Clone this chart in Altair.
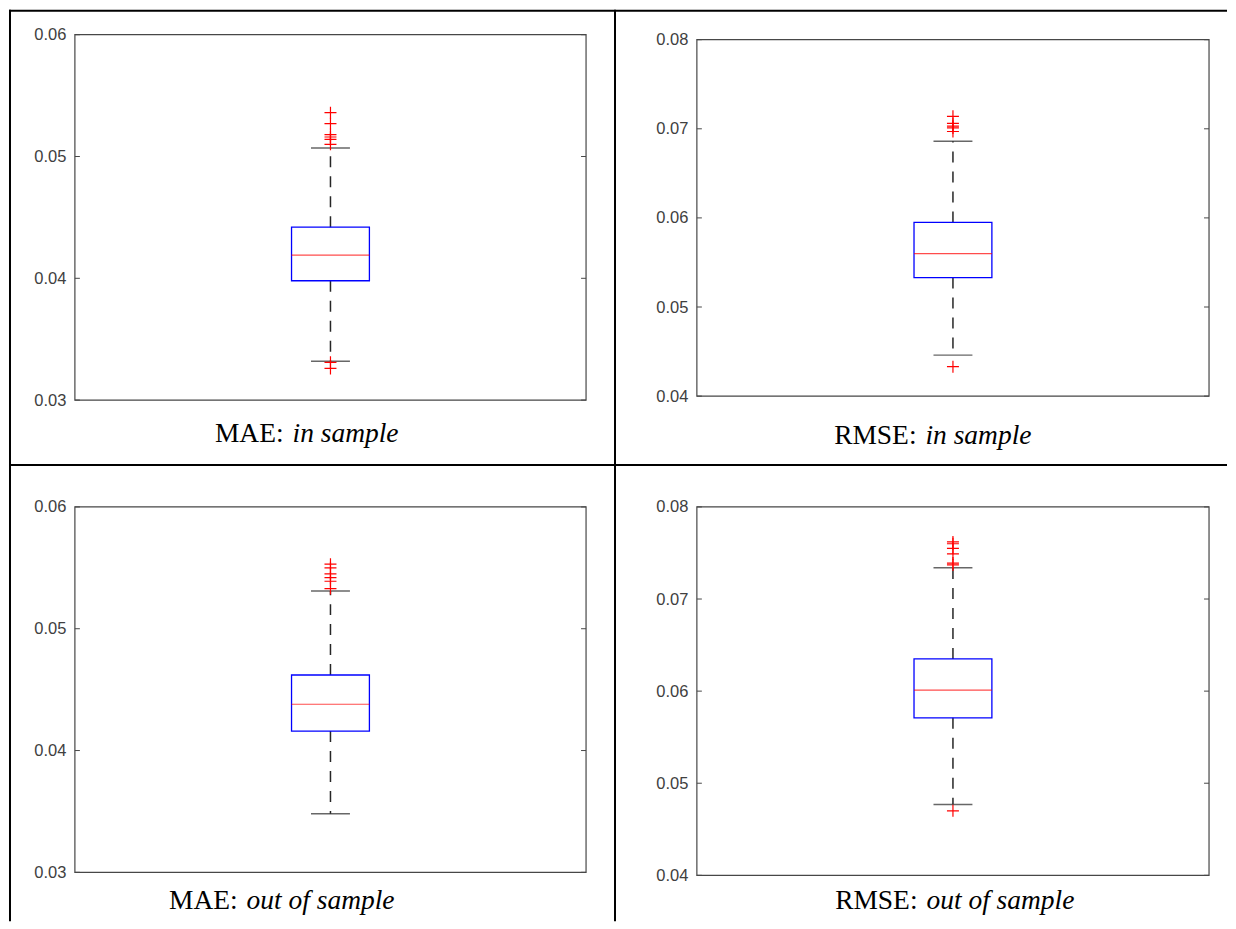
import altair as alt
import pandas as pd

# ---------------- data ----------------
panel_names = ["MAE in sample", "RMSE in sample", "MAE out of sample", "RMSE out of sample"]
caption_metric = ["MAE:", "RMSE:", "MAE:", "RMSE:"]
caption_sample = ["in sample", "in sample", "out of sample", "out of sample"]

box_q1 = [0.0398, 0.0533, 0.0416, 0.0571]
box_median = [0.0419, 0.0560, 0.0438, 0.0601]
box_q3 = [0.0442, 0.0595, 0.0462, 0.0635]
whisker_low = [0.0332, 0.0446, 0.0348, 0.0477]
whisker_high = [0.0507, 0.0686, 0.0531, 0.0734]

outliers_mae_in = [0.0536, 0.0527, 0.0518, 0.0516, 0.0514, 0.0510, 0.0331, 0.0326]
outliers_rmse_in = [0.0714, 0.0706, 0.0703, 0.0701, 0.0697, 0.0433]
outliers_mae_out = [0.0553, 0.0550, 0.0545, 0.0542, 0.0539, 0.0533]
outliers_rmse_out = [0.0762, 0.0760, 0.0755, 0.0749, 0.0739, 0.0737, 0.0470]
outliers = [outliers_mae_in, outliers_rmse_in, outliers_mae_out, outliers_rmse_out]

ticks_mae = [0.03, 0.04, 0.05, 0.06]
ticks_rmse = [0.04, 0.05, 0.06, 0.07, 0.08]
axis_ticks = [ticks_mae, ticks_rmse, ticks_mae, ticks_rmse]

# ---------------- styling / layout ----------------
FRAME = "#474747"
LABEL = "#404040"
BLUE = "#0000ff"
RED = "#ff0000"
WHISK = "#262626"
SERIF = "Liberation Serif, Times New Roman, serif"

# width, height, top pad px, bottom pad px
layout = [
    (512, 366, 0, 0),
    (513, 366, 5, 4),
    (512, 366, 0, 0),
    (513, 369, 0, 0),
]
# caption split x, baseline y (panel-local)
captions = [(209, 408), (220, 410), (163, 403), (221, 403)]
# border rules per panel: (x, x2, y, y2) panel-local pixels
borders = [
    [(-66, 541, -24, -24), (-65, -65, -25, 431), (-66, 541, 431, 431), (541, 541, -25, 431)],
    [(-82, 531, -24, -24), (-82, 531, 431, 431)],
    [(-65, -65, -42, 415), (541, 541, -42, 415)],
    [],
]

one = pd.DataFrame({"k": [0]})


def make_panel(i):
    w, h, pt, pb = layout[i]
    ticks = axis_ticks[i]
    lo, hi = ticks[0], ticks[-1]
    k = (h - pt - pb) / (hi - lo)
    dom = [lo - pb / k, hi + pt / k]
    ysc = alt.Scale(domain=dom, zero=False, nice=False)
    yax = alt.Axis(values=ticks, format=".2f", ticks=False, domain=False, grid=False,
                   labelPadding=9, labelFont="Liberation Sans", labelFontSize=16.5,
                   labelColor=LABEL, title=None)
    name = panel_names[i]
    xenc = alt.X("panel:N", scale=alt.Scale(type="point", domain=[name], padding=0.5), axis=None)

    stats = pd.DataFrame({
        "panel": [name], "q1": [box_q1[i]], "med": [box_median[i]], "q3": [box_q3[i]],
        "wlo": [whisker_low[i]], "whi": [whisker_high[i]],
    })
    out = pd.DataFrame({"panel": [name] * len(outliers[i]), "v": outliers[i]})
    tdf = pd.DataFrame({"t": ticks})
    fdf = pd.DataFrame({"top": [hi], "bot": [lo]})

    def Y(f):
        return alt.Y(f, scale=ysc, axis=yax)

    frame = alt.Chart(fdf).mark_rect(fill="transparent", stroke=FRAME, strokeWidth=1.2).encode(
        y=Y("top:Q"), y2="bot:Q", x=alt.value(0), x2=alt.value(w))
    tl = alt.Chart(tdf).mark_rule(color=FRAME, strokeWidth=1).encode(
        y=Y("t:Q"), x=alt.value(0), x2=alt.value(5))
    tr = alt.Chart(tdf).mark_rule(color=FRAME, strokeWidth=1).encode(
        y=Y("t:Q"), x=alt.value(w - 5), x2=alt.value(w))
    wh_up = alt.Chart(stats).mark_rule(color=WHISK, strokeWidth=1.5, strokeDash=[11, 9]).encode(
        x=xenc, y=Y("q3:Q"), y2="whi:Q")
    wh_lo = alt.Chart(stats).mark_rule(color=WHISK, strokeWidth=1.5, strokeDash=[11, 9]).encode(
        x=xenc, y=Y("q1:Q"), y2="wlo:Q")
    cap_hi = alt.Chart(stats).mark_tick(size=39, thickness=1.5, color=WHISK).encode(
        x=xenc, y=Y("whi:Q"))
    cap_lo = alt.Chart(stats).mark_tick(size=39, thickness=1.5, color=WHISK).encode(
        x=xenc, y=Y("wlo:Q"))
    box = alt.Chart(stats).mark_bar(size=78, fill="transparent", stroke=BLUE, strokeWidth=1.3).encode(
        x=xenc, y=Y("q1:Q"), y2="q3:Q")
    med = alt.Chart(stats).mark_tick(size=78, thickness=1.2, color=RED).encode(
        x=xenc, y=Y("med:Q"))
    pts = alt.Chart(out).mark_point(shape="M-1,0H1M0,-1V1", size=144, filled=False,
                                    stroke=RED, strokeWidth=1.2, opacity=1).encode(
        x=xenc, y=Y("v:Q"))

    cx, cy = captions[i]
    c1 = alt.Chart(pd.DataFrame({"t": [caption_metric[i]]})).mark_text(
        font=SERIF, fontSize=27.5, align="right", baseline="alphabetic", color="black"
    ).encode(x=alt.value(cx), y=alt.value(cy), text="t:N")
    c2 = alt.Chart(pd.DataFrame({"t": [caption_sample[i]]})).mark_text(
        font=SERIF, fontSize=27.5, fontStyle="italic", align="left",
        baseline="alphabetic", color="black"
    ).encode(x=alt.value(cx + 9), y=alt.value(cy), text="t:N")

    layers = [frame, tl, tr, wh_up, wh_lo, cap_hi, cap_lo, box, med, pts, c1, c2]
    for (x1, x2, y1, y2) in borders[i]:
        layers.append(alt.Chart(one).mark_rule(color="black", strokeWidth=2).encode(
            x=alt.value(x1), x2=alt.value(x2), y=alt.value(y1), y2=alt.value(y2)))
    return alt.layer(*layers).properties(width=w, height=h)


chart = alt.concat(
    *[make_panel(i) for i in range(4)],
    columns=2,
    spacing={"row": 107, "column": 111},
    bounds="flush",
).properties(padding=0, background="white").configure_view(strokeWidth=0)

chart.save("out.html", embed_options={"renderer": "svg", "actions": False})
